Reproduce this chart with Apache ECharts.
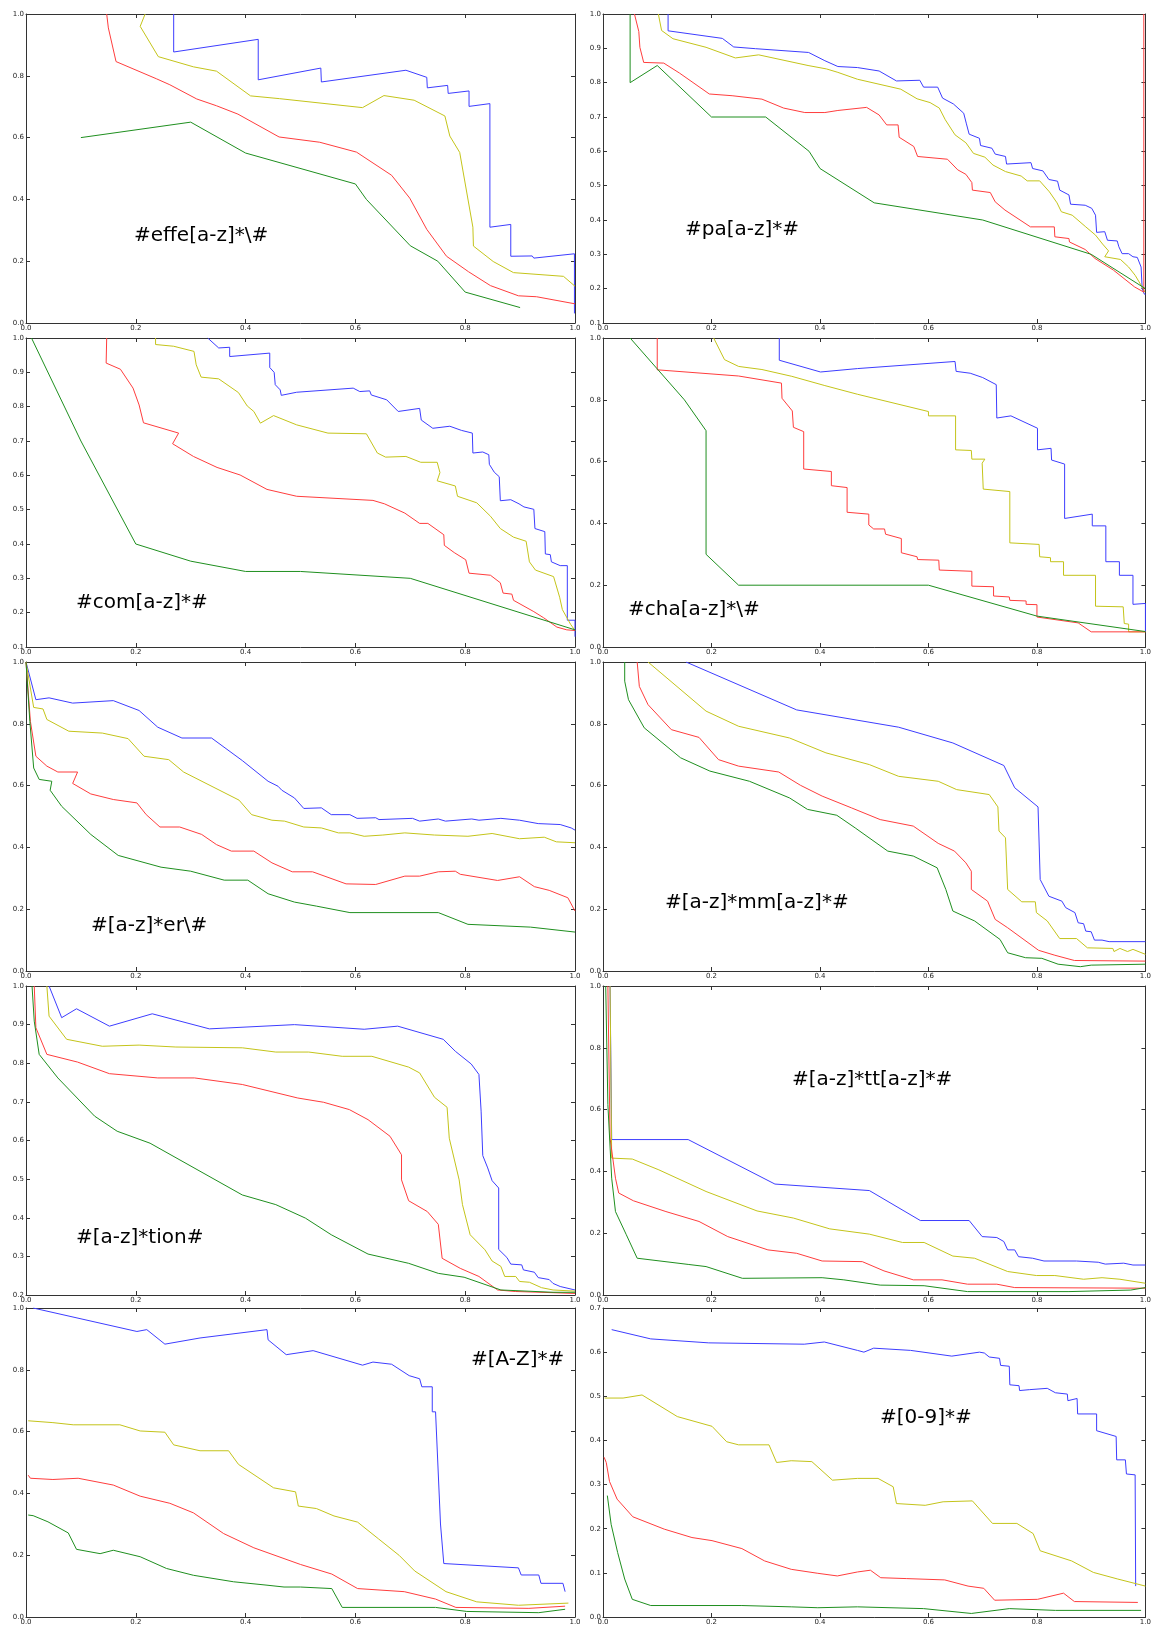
<!DOCTYPE html>
<html>
<head>
<meta charset="utf-8">
<title>precision / recall panels</title>
<script src="https://cdn.jsdelivr.net/npm/echarts/dist/echarts.min.js"></script>
<style>
  html, body { margin: 0; padding: 0; background: #fff; }
  #chart { width: 1154px; height: 1626px; }
</style>
</head>
<body>
<div id="chart"></div>
<script>
// ---- data, one array per curve: [x, y] points ----

// #effe[a-z]*\#
var effeBlue = [[0.269,1.0],[0.269,0.877],[0.423,0.918],[0.423,0.787],[0.537,0.825],[0.538,0.780],[0.692,0.818],[0.730,0.795],[0.731,0.761],[0.768,0.769],[0.769,0.743],[0.807,0.751],[0.807,0.701],[0.845,0.710],[0.845,0.310],[0.883,0.319],[0.883,0.216],[0.922,0.217],[0.925,0.210],[0.999,0.224],[0.999,0.031]];
var effeYellow = [[0.217,1.0],[0.208,0.960],[0.241,0.862],[0.305,0.829],[0.347,0.815],[0.409,0.735],[0.462,0.726],[0.613,0.697],[0.652,0.736],[0.707,0.721],[0.763,0.670],[0.772,0.605],[0.790,0.552],[0.814,0.310],[0.815,0.249],[0.851,0.199],[0.888,0.163],[0.979,0.151],[1.0,0.119]];
var effeRed = [[0.147,1.0],[0.150,0.955],[0.164,0.846],[0.238,0.790],[0.262,0.771],[0.311,0.725],[0.347,0.703],[0.386,0.676],[0.461,0.602],[0.535,0.585],[0.602,0.553],[0.666,0.478],[0.699,0.404],[0.730,0.303],[0.766,0.216],[0.806,0.166],[0.846,0.121],[0.897,0.088],[0.930,0.085],[1.0,0.062]];
var effeGreen = [[0.1,0.6],[0.3,0.65],[0.4,0.55],[0.6,0.45],[0.62,0.40],[0.7,0.25],[0.75,0.2],[0.8,0.1],[0.9,0.05]];

// #pa[a-z]*#
var paBlue = [[0.120,1.0],[0.120,0.951],[0.220,0.929],[0.241,0.904],[0.281,0.899],[0.379,0.888],[0.409,0.864],[0.433,0.847],[0.469,0.844],[0.509,0.834],[0.541,0.805],[0.584,0.807],[0.591,0.787],[0.617,0.787],[0.626,0.755],[0.646,0.738],[0.665,0.711],[0.670,0.680],[0.675,0.650],[0.694,0.638],[0.696,0.617],[0.717,0.609],[0.723,0.592],[0.742,0.585],[0.744,0.563],[0.789,0.567],[0.792,0.550],[0.811,0.543],[0.822,0.518],[0.838,0.513],[0.842,0.487],[0.859,0.473],[0.862,0.446],[0.889,0.443],[0.901,0.434],[0.908,0.414],[0.910,0.364],[0.925,0.366],[0.930,0.341],[0.948,0.339],[0.951,0.322],[0.957,0.302],[0.969,0.302],[0.977,0.293],[0.985,0.291],[0.992,0.263],[0.994,0.200],[0.998,0.184],[1.0,0.184]];
var paYellow = [[0.102,1.0],[0.108,0.952],[0.129,0.928],[0.190,0.903],[0.244,0.872],[0.287,0.881],[0.378,0.850],[0.412,0.840],[0.433,0.830],[0.469,0.810],[0.549,0.781],[0.579,0.753],[0.603,0.742],[0.620,0.726],[0.631,0.692],[0.649,0.648],[0.669,0.625],[0.683,0.594],[0.704,0.583],[0.719,0.560],[0.742,0.541],[0.771,0.528],[0.782,0.514],[0.805,0.514],[0.823,0.482],[0.837,0.450],[0.845,0.424],[0.865,0.414],[0.890,0.380],[0.908,0.356],[0.921,0.330],[0.932,0.310],[0.925,0.293],[0.954,0.285],[0.969,0.263],[0.981,0.239],[0.992,0.210],[0.999,0.190]];
var paRed = [[0.058,1.0],[0.066,0.949],[0.068,0.903],[0.075,0.859],[0.112,0.857],[0.141,0.828],[0.196,0.767],[0.238,0.762],[0.293,0.752],[0.333,0.726],[0.372,0.713],[0.409,0.713],[0.433,0.719],[0.486,0.728],[0.509,0.706],[0.523,0.677],[0.544,0.677],[0.546,0.641],[0.573,0.614],[0.580,0.585],[0.635,0.577],[0.654,0.546],[0.669,0.533],[0.680,0.509],[0.681,0.487],[0.714,0.480],[0.723,0.453],[0.741,0.429],[0.788,0.380],[0.832,0.380],[0.833,0.351],[0.859,0.346],[0.860,0.336],[0.889,0.314],[0.907,0.288],[0.941,0.254],[0.980,0.205],[0.997,0.190],[0.997,1.0]];
var paGreen = [[0.05,1.0],[0.05,0.8],[0.1,0.85],[0.2,0.7],[0.3,0.7],[0.38,0.6],[0.4,0.55],[0.5,0.45],[0.7,0.4],[0.9,0.3],[1.0,0.2]];

// #com[a-z]*#
var comBlue = [[0.331,1.0],[0.351,0.971],[0.371,0.973],[0.371,0.946],[0.444,0.956],[0.444,0.914],[0.452,0.900],[0.454,0.864],[0.463,0.849],[0.465,0.833],[0.493,0.842],[0.596,0.854],[0.608,0.844],[0.626,0.846],[0.629,0.834],[0.657,0.820],[0.678,0.786],[0.717,0.795],[0.720,0.761],[0.741,0.737],[0.772,0.743],[0.793,0.731],[0.813,0.723],[0.814,0.665],[0.832,0.668],[0.843,0.660],[0.844,0.632],[0.853,0.609],[0.862,0.596],[0.864,0.526],[0.883,0.529],[0.898,0.517],[0.907,0.508],[0.925,0.501],[0.927,0.445],[0.945,0.436],[0.946,0.371],[0.955,0.369],[0.957,0.348],[0.973,0.337],[0.986,0.337],[0.986,0.178],[1.0,0.178],[1.0,0.130]];
var comYellow = [[0.236,1.0],[0.236,0.981],[0.269,0.976],[0.306,0.961],[0.310,0.922],[0.319,0.886],[0.351,0.881],[0.387,0.841],[0.403,0.802],[0.415,0.786],[0.427,0.752],[0.451,0.774],[0.493,0.747],[0.550,0.723],[0.620,0.721],[0.640,0.665],[0.655,0.653],[0.692,0.655],[0.719,0.638],[0.749,0.638],[0.754,0.608],[0.749,0.584],[0.782,0.569],[0.786,0.539],[0.821,0.520],[0.846,0.481],[0.864,0.445],[0.888,0.420],[0.911,0.408],[0.917,0.348],[0.928,0.324],[0.961,0.305],[0.972,0.245],[0.977,0.209],[0.992,0.166],[1.0,0.148]];
var comRed = [[0.147,1.0],[0.146,0.927],[0.172,0.909],[0.195,0.854],[0.206,0.805],[0.214,0.753],[0.278,0.723],[0.267,0.692],[0.305,0.655],[0.348,0.623],[0.390,0.601],[0.439,0.559],[0.493,0.539],[0.632,0.527],[0.653,0.517],[0.690,0.490],[0.717,0.460],[0.732,0.460],[0.761,0.427],[0.762,0.396],[0.780,0.375],[0.801,0.354],[0.807,0.315],[0.846,0.309],[0.864,0.287],[0.869,0.257],[0.885,0.254],[0.888,0.236],[0.925,0.203],[0.943,0.185],[0.967,0.158],[0.985,0.150],[1.0,0.148]];
var comGreen = [[0.01,1.0],[0.1,0.7],[0.2,0.4],[0.3,0.35],[0.4,0.32],[0.5,0.32],[0.7,0.30],[1.0,0.15]];

// #cha[a-z]*\#
var chaBlue = [[0.325,1.0],[0.325,0.928],[0.401,0.89],[0.469,0.901],[0.649,0.924],[0.651,0.892],[0.677,0.886],[0.700,0.872],[0.725,0.849],[0.726,0.741],[0.752,0.748],[0.801,0.708],[0.801,0.638],[0.826,0.643],[0.827,0.605],[0.851,0.592],[0.851,0.416],[0.902,0.430],[0.902,0.392],[0.927,0.392],[0.927,0.276],[0.952,0.276],[0.952,0.232],[0.977,0.232],[0.977,0.138],[1.0,0.141],[1.0,0.049]];
var chaYellow = [[0.204,1.0],[0.224,0.930],[0.25,0.908],[0.293,0.898],[0.348,0.876],[0.409,0.846],[0.469,0.818],[0.600,0.762],[0.600,0.748],[0.650,0.748],[0.650,0.638],[0.679,0.636],[0.680,0.608],[0.704,0.608],[0.699,0.595],[0.701,0.511],[0.750,0.503],[0.750,0.337],[0.804,0.332],[0.805,0.292],[0.825,0.289],[0.825,0.276],[0.849,0.276],[0.849,0.232],[0.908,0.232],[0.908,0.132],[0.959,0.130],[0.961,0.076],[0.969,0.074],[0.969,0.049],[1.0,0.049]];
var chaRed = [[0.1,1.0],[0.1,0.897],[0.25,0.877],[0.329,0.854],[0.330,0.805],[0.349,0.764],[0.351,0.711],[0.370,0.697],[0.370,0.576],[0.421,0.568],[0.421,0.522],[0.45,0.516],[0.45,0.436],[0.490,0.430],[0.490,0.395],[0.499,0.382],[0.519,0.382],[0.521,0.365],[0.550,0.351],[0.550,0.305],[0.579,0.292],[0.580,0.283],[0.619,0.281],[0.620,0.249],[0.680,0.245],[0.680,0.197],[0.720,0.195],[0.720,0.165],[0.749,0.162],[0.750,0.151],[0.780,0.149],[0.780,0.138],[0.800,0.137],[0.800,0.097],[0.876,0.078],[0.900,0.049],[1.0,0.049]];
var chaGreen = [[0.05,1.0],[0.1,0.9],[0.15,0.8],[0.19,0.7],[0.19,0.3],[0.25,0.2],[0.6,0.2],[0.8,0.1],[1.0,0.05]];

// #[a-z]*er\#
var erBlue = [[0,1],[0.018,0.878],[0.042,0.884],[0.085,0.867],[0.159,0.875],[0.206,0.843],[0.240,0.789],[0.284,0.754],[0.338,0.754],[0.394,0.681],[0.441,0.614],[0.459,0.598],[0.466,0.585],[0.489,0.560],[0.506,0.526],[0.538,0.528],[0.556,0.506],[0.590,0.506],[0.603,0.494],[0.637,0.496],[0.643,0.490],[0.704,0.494],[0.717,0.485],[0.751,0.492],[0.764,0.485],[0.812,0.492],[0.825,0.488],[0.865,0.494],[0.899,0.488],[0.933,0.477],[0.973,0.474],[0.993,0.463],[1.0,0.456]];
var erYellow = [[0,1],[0.014,0.853],[0.031,0.848],[0.038,0.814],[0.078,0.776],[0.139,0.770],[0.186,0.752],[0.215,0.695],[0.260,0.684],[0.287,0.644],[0.388,0.553],[0.411,0.506],[0.448,0.488],[0.471,0.485],[0.506,0.466],[0.538,0.463],[0.569,0.447],[0.590,0.447],[0.616,0.436],[0.650,0.440],[0.690,0.447],[0.744,0.440],[0.805,0.436],[0.849,0.445],[0.899,0.428],[0.944,0.433],[0.966,0.418],[1.0,0.415]];
var erRed = [[0,1],[0.008,0.808],[0.018,0.695],[0.038,0.663],[0.058,0.644],[0.094,0.644],[0.085,0.607],[0.118,0.573],[0.159,0.555],[0.202,0.544],[0.219,0.506],[0.244,0.466],[0.280,0.466],[0.320,0.442],[0.347,0.409],[0.374,0.388],[0.415,0.388],[0.448,0.350],[0.485,0.321],[0.522,0.321],[0.583,0.282],[0.637,0.280],[0.690,0.307],[0.717,0.307],[0.751,0.321],[0.782,0.323],[0.791,0.313],[0.859,0.293],[0.899,0.305],[0.926,0.273],[0.953,0.261],[0.987,0.237],[1.0,0.194]];
var erGreen = [[0,1],[0.007,0.808],[0.014,0.657],[0.024,0.620],[0.047,0.614],[0.044,0.585],[0.065,0.533],[0.118,0.442],[0.168,0.374],[0.246,0.336],[0.300,0.323],[0.361,0.294],[0.404,0.294],[0.441,0.250],[0.489,0.223],[0.529,0.210],[0.590,0.189],[0.751,0.189],[0.805,0.151],[0.919,0.142],[1.0,0.126]];

// #[a-z]*mm[a-z]*#
var mmBlue = [[0.153,1.0],[0.357,0.845],[0.545,0.789],[0.645,0.738],[0.739,0.665],[0.759,0.593],[0.802,0.531],[0.806,0.296],[0.822,0.242],[0.846,0.226],[0.853,0.205],[0.870,0.189],[0.876,0.156],[0.886,0.153],[0.890,0.129],[0.900,0.127],[0.906,0.100],[0.920,0.100],[0.933,0.095],[1.0,0.095]];
var mmYellow = [[0.083,1.0],[0.190,0.841],[0.250,0.792],[0.344,0.754],[0.411,0.706],[0.491,0.668],[0.545,0.630],[0.618,0.614],[0.652,0.587],[0.712,0.571],[0.728,0.531],[0.730,0.453],[0.742,0.431],[0.746,0.264],[0.772,0.224],[0.797,0.224],[0.799,0.189],[0.819,0.162],[0.842,0.105],[0.873,0.105],[0.893,0.075],[0.940,0.073],[0.942,0.063],[0.953,0.073],[0.967,0.063],[0.977,0.070],[1.0,0.054]];
var mmRed = [[0.063,1.0],[0.067,0.921],[0.083,0.862],[0.126,0.781],[0.177,0.756],[0.213,0.684],[0.250,0.663],[0.324,0.644],[0.364,0.601],[0.404,0.566],[0.458,0.528],[0.511,0.490],[0.572,0.469],[0.618,0.413],[0.648,0.388],[0.669,0.350],[0.679,0.323],[0.679,0.264],[0.709,0.226],[0.723,0.167],[0.746,0.140],[0.803,0.067],[0.833,0.051],[0.869,0.034],[1.0,0.032]];
var mmGreen = [[0.040,1.0],[0.040,0.938],[0.047,0.878],[0.076,0.787],[0.143,0.690],[0.197,0.647],[0.270,0.614],[0.344,0.560],[0.377,0.523],[0.431,0.504],[0.465,0.463],[0.525,0.388],[0.572,0.372],[0.616,0.334],[0.632,0.264],[0.645,0.194],[0.685,0.162],[0.732,0.102],[0.746,0.059],[0.779,0.043],[0.809,0.041],[0.839,0.022],[0.880,0.014],[0.900,0.019],[1.0,0.022]];

// #[a-z]*tion#
var tionBlue = [[0.042,1.0],[0.065,0.918],[0.092,0.941],[0.152,0.896],[0.230,0.928],[0.334,0.889],[0.489,0.900],[0.616,0.888],[0.677,0.896],[0.760,0.862],[0.782,0.831],[0.811,0.798],[0.825,0.771],[0.829,0.676],[0.832,0.561],[0.841,0.529],[0.849,0.496],[0.861,0.477],[0.861,0.318],[0.876,0.297],[0.883,0.280],[0.903,0.278],[0.906,0.265],[0.926,0.259],[0.933,0.245],[0.953,0.240],[0.960,0.230],[0.973,0.222],[1.0,0.213]];
var tionYellow = [[0.038,1.0],[0.042,0.922],[0.074,0.862],[0.139,0.844],[0.206,0.847],[0.273,0.842],[0.394,0.840],[0.455,0.829],[0.515,0.829],[0.576,0.818],[0.630,0.818],[0.697,0.790],[0.717,0.775],[0.744,0.712],[0.767,0.686],[0.771,0.606],[0.789,0.498],[0.795,0.434],[0.809,0.356],[0.836,0.317],[0.849,0.288],[0.865,0.274],[0.872,0.248],[0.892,0.248],[0.899,0.235],[0.917,0.233],[0.939,0.219],[0.960,0.213],[1.0,0.210]];
var tionRed = [[0.015,1.0],[0.018,0.892],[0.038,0.823],[0.094,0.803],[0.152,0.773],[0.240,0.762],[0.307,0.762],[0.394,0.745],[0.495,0.710],[0.542,0.699],[0.589,0.680],[0.623,0.654],[0.663,0.611],[0.684,0.563],[0.684,0.498],[0.697,0.444],[0.731,0.416],[0.751,0.383],[0.758,0.295],[0.791,0.269],[0.825,0.248],[0.859,0.213],[0.892,0.209],[0.960,0.206],[1.0,0.204]];
var tionGreen = [[0.011,1.0],[0.015,0.909],[0.024,0.823],[0.058,0.762],[0.125,0.663],[0.166,0.624],[0.226,0.593],[0.394,0.459],[0.455,0.434],[0.509,0.399],[0.556,0.356],[0.623,0.306],[0.697,0.282],[0.751,0.256],[0.798,0.246],[0.865,0.213],[0.960,0.207],[1.0,0.207]];

// #[a-z]*tt[a-z]*#
var ttBlue = [[0.013,1.0],[0.016,0.503],[0.157,0.503],[0.317,0.359],[0.491,0.338],[0.585,0.241],[0.675,0.241],[0.699,0.189],[0.726,0.186],[0.739,0.173],[0.746,0.146],[0.759,0.146],[0.766,0.124],[0.792,0.119],[0.813,0.110],[0.873,0.110],[0.913,0.106],[0.926,0.100],[0.960,0.103],[0.977,0.097],[1.0,0.097]];
var ttYellow = [[0.013,1.0],[0.016,0.443],[0.054,0.44],[0.103,0.405],[0.190,0.335],[0.284,0.272],[0.351,0.249],[0.418,0.214],[0.491,0.197],[0.552,0.170],[0.592,0.170],[0.645,0.126],[0.685,0.119],[0.746,0.076],[0.799,0.063],[0.833,0.063],[0.886,0.051],[0.920,0.056],[0.953,0.051],[1.0,0.038]];
var ttRed = [[0.009,1.0],[0.013,0.508],[0.023,0.378],[0.029,0.330],[0.056,0.305],[0.116,0.270],[0.177,0.238],[0.230,0.189],[0.304,0.146],[0.357,0.135],[0.404,0.110],[0.478,0.108],[0.518,0.078],[0.572,0.049],[0.625,0.049],[0.672,0.035],[0.726,0.035],[0.759,0.024],[1.0,0.022]];
var ttGreen = [[0.005,1.0],[0.009,0.616],[0.016,0.378],[0.023,0.270],[0.043,0.195],[0.063,0.119],[0.157,0.099],[0.190,0.092],[0.257,0.054],[0.404,0.056],[0.444,0.049],[0.511,0.032],[0.592,0.030],[0.672,0.011],[0.859,0.011],[0.973,0.016],[1.0,0.024]];

// #[A-Z]*#
var azBlue = [[0.013,1.0],[0.202,0.924],[0.220,0.930],[0.253,0.883],[0.317,0.903],[0.439,0.930],[0.441,0.897],[0.474,0.849],[0.523,0.862],[0.613,0.815],[0.632,0.825],[0.666,0.818],[0.698,0.781],[0.717,0.771],[0.721,0.745],[0.740,0.745],[0.740,0.664],[0.746,0.664],[0.755,0.301],[0.761,0.173],[0.897,0.159],[0.902,0.136],[0.934,0.136],[0.938,0.109],[0.978,0.109],[0.982,0.082]];
var azYellow = [[0.004,0.635],[0.049,0.629],[0.086,0.622],[0.171,0.622],[0.208,0.602],[0.253,0.598],[0.269,0.557],[0.317,0.538],[0.369,0.538],[0.387,0.494],[0.451,0.418],[0.491,0.405],[0.496,0.359],[0.529,0.351],[0.561,0.327],[0.604,0.307],[0.642,0.253],[0.680,0.199],[0.708,0.149],[0.765,0.082],[0.821,0.049],[0.897,0.038],[0.988,0.045]];
var azRed = [[0.004,0.459],[0.008,0.449],[0.049,0.445],[0.095,0.449],[0.159,0.427],[0.208,0.391],[0.262,0.368],[0.305,0.337],[0.360,0.270],[0.415,0.224],[0.5,0.170],[0.557,0.139],[0.604,0.092],[0.689,0.082],[0.746,0.058],[0.783,0.031],[0.916,0.028],[0.982,0.035]];
var azGreen = [[0.004,0.330],[0.013,0.328],[0.040,0.308],[0.077,0.272],[0.092,0.219],[0.135,0.205],[0.159,0.216],[0.208,0.195],[0.256,0.157],[0.305,0.135],[0.378,0.114],[0.439,0.103],[0.470,0.097],[0.5,0.097],[0.557,0.092],[0.576,0.031],[0.746,0.031],[0.803,0.018],[0.934,0.014],[0.982,0.025]];

// #[0-9]*#
var numBlue = [[0.016,0.651],[0.088,0.630],[0.195,0.621],[0.371,0.618],[0.408,0.623],[0.469,0.604],[0.481,0.600],[0.499,0.609],[0.567,0.604],[0.643,0.591],[0.694,0.600],[0.703,0.598],[0.712,0.589],[0.731,0.586],[0.733,0.570],[0.749,0.568],[0.750,0.526],[0.767,0.524],[0.768,0.513],[0.786,0.515],[0.819,0.518],[0.834,0.508],[0.856,0.505],[0.857,0.490],[0.874,0.495],[0.875,0.460],[0.910,0.460],[0.910,0.422],[0.946,0.409],[0.947,0.356],[0.963,0.356],[0.965,0.324],[0.981,0.322],[0.982,0.070]];
var numYellow = [[0.003,0.496],[0.037,0.496],[0.072,0.503],[0.137,0.454],[0.201,0.432],[0.228,0.397],[0.250,0.390],[0.306,0.390],[0.320,0.350],[0.347,0.354],[0.385,0.352],[0.423,0.310],[0.469,0.314],[0.507,0.314],[0.535,0.295],[0.541,0.257],[0.594,0.253],[0.627,0.261],[0.681,0.263],[0.718,0.212],[0.763,0.212],[0.793,0.189],[0.806,0.150],[0.864,0.127],[0.904,0.101],[0.949,0.086],[1.0,0.070]];
var numRed = [[0.002,0.362],[0.006,0.350],[0.012,0.307],[0.026,0.267],[0.055,0.227],[0.113,0.199],[0.164,0.180],[0.201,0.173],[0.256,0.155],[0.298,0.127],[0.347,0.108],[0.396,0.099],[0.432,0.093],[0.469,0.102],[0.493,0.106],[0.512,0.089],[0.560,0.087],[0.630,0.084],[0.673,0.070],[0.702,0.065],[0.722,0.038],[0.801,0.040],[0.849,0.054],[0.869,0.035],[0.986,0.033]];
var numGreen = [[0.008,0.275],[0.015,0.210],[0.027,0.146],[0.040,0.086],[0.054,0.040],[0.088,0.026],[0.256,0.026],[0.347,0.023],[0.396,0.021],[0.469,0.023],[0.591,0.019],[0.679,0.008],[0.749,0.019],[0.834,0.015],[0.992,0.015]];

// panel labels and y ranges (x is always 0..1 by 0.2)
var panelLabels = ['#effe[a-z]*\\#', '#pa[a-z]*#', '#com[a-z]*#', '#cha[a-z]*\\#', '#[a-z]*er\\#',
                   '#[a-z]*mm[a-z]*#', '#[a-z]*tion#', '#[a-z]*tt[a-z]*#', '#[A-Z]*#', '#[0-9]*#'];
var yMins = [0, 0.1, 0.1, 0, 0, 0, 0.2, 0, 0, 0];
var yMaxs = [1, 1, 1, 1, 1, 1, 1, 1, 1, 0.7];
var yIntervals = [0.2, 0.1, 0.1, 0.2, 0.2, 0.2, 0.1, 0.2, 0.2, 0.1];
var xTicks = { min: 0, max: 1, interval: 0.2 };

var curves = [
  [effeBlue, effeYellow, effeRed, effeGreen],
  [paBlue, paYellow, paRed, paGreen],
  [comBlue, comYellow, comRed, comGreen],
  [chaBlue, chaYellow, chaRed, chaGreen],
  [erBlue, erYellow, erRed, erGreen],
  [mmBlue, mmYellow, mmRed, mmGreen],
  [tionBlue, tionYellow, tionRed, tionGreen],
  [ttBlue, ttYellow, ttRed, ttGreen],
  [azBlue, azYellow, azRed, azGreen],
  [numBlue, numYellow, numRed, numGreen]
];

// ---- layout ----
var lineColors = ['#3d3dff', '#c4c41a', '#ff3d3d', '#1f8f1f'];
var colLeft = [26, 603];
var colWidth = [549, 548];
var rowTop = [14, 338, 662, 986, 1308];
var rowHeight = 309;
// label anchor (left, vertical middle) in page pixels
var labelPos = [[134, 236], [685, 230], [76, 603], [628, 610], [91, 926],
                [665, 903], [76, 1238], [792, 1080], [471, 1360], [880, 1418]];

var frameColor = '#333';
var tickFont = { fontSize: 7, color: '#222', fontFamily: 'DejaVu Sans' };

function fmt(v) {
  return v.toFixed(1);
}

function buildOption() {
  var grid = [], xAxis = [], yAxis = [], series = [], graphic = [];
  for (var i = 0; i < curves.length; i++) {
    var col = i % 2, row = Math.floor(i / 2);
    grid.push({ left: colLeft[col], top: rowTop[row], width: colWidth[col], height: rowHeight });

    // bottom + top x axes, left + right y axes (ticks inside on all four sides)
    ['bottom', 'top'].forEach(function(pos) {
      xAxis.push({
        type: 'value', gridIndex: i, position: pos,
        min: xTicks.min, max: xTicks.max, interval: xTicks.interval,
        axisLine: { show: true, onZero: false, lineStyle: { color: frameColor, width: 1 } },
        axisTick: { show: true, inside: true, length: 4, lineStyle: { color: frameColor } },
        axisLabel: Object.assign({ show: pos === 'bottom', margin: 2, formatter: fmt,
                                   showMinLabel: true, showMaxLabel: true }, tickFont),
        splitLine: { show: false }
      });
    });
    ['left', 'right'].forEach(function(pos) {
      yAxis.push({
        type: 'value', gridIndex: i, position: pos,
        min: yMins[i], max: yMaxs[i], interval: yIntervals[i],
        axisLine: { show: true, onZero: false, lineStyle: { color: frameColor, width: 1 } },
        axisTick: { show: true, inside: true, length: 4, lineStyle: { color: frameColor } },
        axisLabel: Object.assign({ show: pos === 'left', margin: 2, formatter: fmt,
                                   showMinLabel: true, showMaxLabel: true }, tickFont),
        splitLine: { show: false }
      });
    });

    for (var k = 0; k < 4; k++) {
      series.push({
        type: 'line',
        xAxisIndex: i * 2,
        yAxisIndex: i * 2,
        data: curves[i][k],
        showSymbol: false,
        animation: false,
        silent: true,
        lineStyle: { color: lineColors[k], width: 1 },
        z: 2 + k
      });
    }

    graphic.push({
      type: 'text',
      x: labelPos[i][0],
      y: labelPos[i][1],
      style: {
        text: panelLabels[i],
        fill: '#000',
        fontSize: 20,
        fontFamily: 'DejaVu Sans',
        verticalAlign: 'middle'
      },
      z: 10
    });
  }
  return {
    backgroundColor: '#fff',
    animation: false,
    grid: grid,
    xAxis: xAxis,
    yAxis: yAxis,
    series: series,
    graphic: graphic
  };
}

var myChart = echarts.init(document.getElementById('chart'), null, { renderer: 'canvas' });
myChart.setOption(buildOption());
</script>
</body>
</html>
